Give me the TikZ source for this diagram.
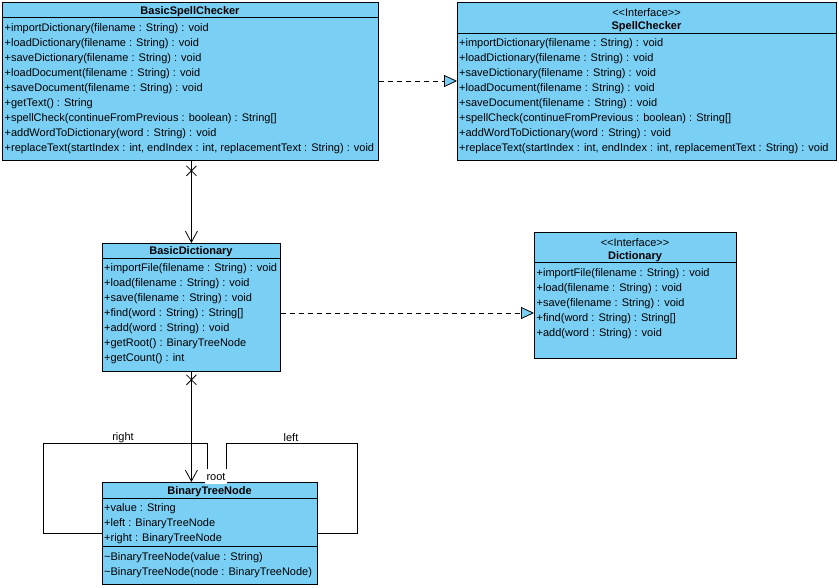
\documentclass[tikz,border=0pt]{standalone}
\usepackage{fontspec}
\setmainfont{Liberation Sans}[Ligatures=TeXOff]
\usetikzlibrary{arrows.meta,calc}
\definecolor{clsblue}{RGB}{122,207,245}
\tikzset{
  cls/.style={draw=black, fill=clsblue, line width=0.8pt, inner sep=0pt, anchor=north west},
  mem/.style={anchor=west, inner sep=0pt, yshift=-1.5pt, font=\fontsize{11}{13}\selectfont},
  ttl/.style={inner sep=0pt, yshift=-1.5pt, font=\fontsize{11}{13}\selectfont\bfseries},
  ster/.style={inner sep=0pt, yshift=-1.5pt, font=\fontsize{11}{13}\selectfont},
  sepline/.style={line width=0.8pt},
  dep/.style={line width=0.8pt, dash pattern=on 5pt off 4pt, -{Triangle[length=13pt,width=12pt,fill=clsblue,line width=0.8pt]}},
  nav/.style={line width=0.8pt, -{Straight Barb[length=11pt,width=12pt,line width=0.8pt]}},
  xmark/.style={line width=0.8pt},
  lbl/.style={inner sep=0pt, yshift=-1.5pt, font=\fontsize{11}{13}\selectfont}
}
\begin{document}
\begin{tikzpicture}[x=1pt,y=-1pt]
\useasboundingbox (0,0) rectangle (839,588);

% BasicSpellChecker
\node[cls, minimum width=376pt, minimum height=158pt] (bsc) at (2,2) {};
\draw[sepline] ([yshift=-15pt]bsc.north west) -- ([yshift=-15pt]bsc.north east);
\node[ttl] (bsct) at (190,10) {BasicSpellChecker};
\node[mem] (bsc1) at (4.5,27) {+importDictionary(filename : String) : void};
\node[mem] (bsc2) at (4.5,42) {+loadDictionary(filename : String) : void};
\node[mem] (bsc3) at (4.5,57) {+saveDictionary(filename : String) : void};
\node[mem] (bsc4) at (4.5,72) {+loadDocument(filename : String) : void};
\node[mem] (bsc5) at (4.5,87) {+saveDocument(filename : String) : void};
\node[mem] (bsc6) at (4.5,102) {+getText() : String};
\node[mem] (bsc7) at (4.5,117) {+spellCheck(continueFromPrevious : boolean) : String[]};
\node[mem] (bsc8) at (4.5,132) {+addWordToDictionary(word : String) : void};
\node[mem] (bsc9) at (4.5,147) {+replaceText(startIndex : int, endIndex : int, replacementText : String) : void};

% SpellChecker
\node[cls, minimum width=379pt, minimum height=158pt] (sc) at (457,2) {};
\draw[sepline] ([yshift=-31pt]sc.north west) -- ([yshift=-31pt]sc.north east);
\node[ster] (scs) at (646.5,11) {<<Interface>>};
\node[ttl] (sct) at (646.5,25) {SpellChecker};
\node[mem] (sc1) at (459,42) {+importDictionary(filename : String) : void};
\node[mem] (sc2) at (459,57) {+loadDictionary(filename : String) : void};
\node[mem] (sc3) at (459,72) {+saveDictionary(filename : String) : void};
\node[mem] (sc4) at (459,87) {+loadDocument(filename : String) : void};
\node[mem] (sc5) at (459,102) {+saveDocument(filename : String) : void};
\node[mem] (sc6) at (459,117) {+spellCheck(continueFromPrevious : boolean) : String[]};
\node[mem] (sc7) at (459,132) {+addWordToDictionary(word : String) : void};
\node[mem] (sc8) at (459,147) {+replaceText(startIndex : int, endIndex : int, replacementText : String) : void};

% BasicDictionary
\node[cls, minimum width=178pt, minimum height=128pt] (bd) at (102,243) {};
\draw[sepline] ([yshift=-15pt]bd.north west) -- ([yshift=-15pt]bd.north east);
\node[ttl] (bdt) at (191,250.5) {BasicDictionary};
\node[mem] (bd1) at (104,267) {+importFile(filename : String) : void};
\node[mem] (bd2) at (104,282) {+load(filename : String) : void};
\node[mem] (bd3) at (104,297) {+save(filename : String) : void};
\node[mem] (bd4) at (104,312) {+find(word : String) : String[]};
\node[mem] (bd5) at (104,327) {+add(word : String) : void};
\node[mem] (bd6) at (104,342) {+getRoot() : BinaryTreeNode};
\node[mem] (bd7) at (104,357) {+getCount() : int};

% Dictionary
\node[cls, minimum width=202pt, minimum height=126pt] (di) at (534,232) {};
\draw[sepline] ([yshift=-30pt]di.north west) -- ([yshift=-30pt]di.north east);
\node[ster] (dis) at (635,241) {<<Interface>>};
\node[ttl] (dit) at (635,255) {Dictionary};
\node[mem] (di1) at (536.5,272) {+importFile(filename : String) : void};
\node[mem] (di2) at (536.5,287) {+load(filename : String) : void};
\node[mem] (di3) at (536.5,302) {+save(filename : String) : void};
\node[mem] (di4) at (536.5,317) {+find(word : String) : String[]};
\node[mem] (di5) at (536.5,332) {+add(word : String) : void};

% BinaryTreeNode
\node[cls, minimum width=215pt, minimum height=102pt] (btn) at (102,482) {};
\draw[sepline] ([yshift=-16pt]btn.north west) -- ([yshift=-16pt]btn.north east);
\draw[sepline] ([yshift=-64pt]btn.north west) -- ([yshift=-64pt]btn.north east);
\node[ttl] (btnt) at (209.5,490) {BinaryTreeNode};
\node[mem] (btn1) at (104,507) {+value : String};
\node[mem] (btn2) at (104,522) {+left : BinaryTreeNode};
\node[mem] (btn3) at (104,537) {+right : BinaryTreeNode};
\node[mem] (btn4) at (104,556) {\textasciitilde BinaryTreeNode(value : String)};
\node[mem] (btn5) at (104,571) {\textasciitilde BinaryTreeNode(node : BinaryTreeNode)};

% Realizations
\draw[dep] ($(bsc.north east)+(0,79)$) coordinate (r1) -- (r1 -| sc.west);
\draw[dep] ($(bd.north east)+(0,70)$) coordinate (r2) -- (r2 -| di.west);

% Associations
\draw[nav] (bd.north |- bsc.south) coordinate (a1) -- (bd.north);
\coordinate (x1) at ($(a1)+(0,10)$);
\draw[xmark] ($(x1)+(-5,-5)$) -- ($(x1)+(5,5)$) ($(x1)+(-5,5)$) -- ($(x1)+(5,-5)$);

\draw[nav] (bd.south) -- (bd.south |- btn.north);
\coordinate (x2) at ($(bd.south)+(0,8)$);
\draw[xmark] ($(x2)+(-5,-5)$) -- ($(x2)+(5,5)$) ($(x2)+(-5,5)$) -- ($(x2)+(5,-5)$);

% Self associations
\draw[line width=0.8pt] ($(btn.north west)+(105,0)$) |- ($(btn.north west)+(-59,-39)$) |- ($(btn.north west)+(0,51)$);
\draw[line width=0.8pt] ($(btn.north west)+(124,0)$) |- ($(btn.north east)+(40,-39)$) |- ($(btn.north east)+(0,51)$);
\node[lbl, fill=white, inner xsep=1.5pt, minimum height=15pt] (root) at (216,475) {root};
\node[lbl] (rightl) at (123,436) {right};
\node[lbl] (leftl) at (291,436) {left};
\end{tikzpicture}
\end{document}
